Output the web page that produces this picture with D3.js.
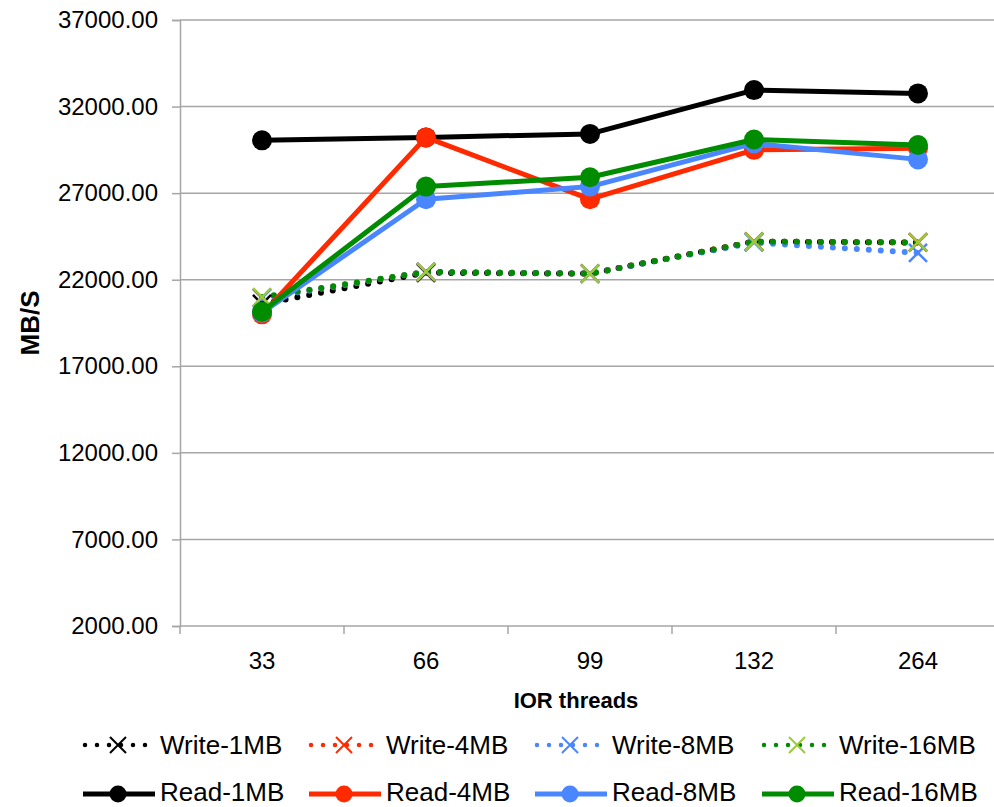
<!DOCTYPE html>
<html>
<head>
<meta charset="utf-8">
<script src="https://cdn.jsdelivr.net/npm/d3@7/dist/d3.min.js"></script>
<style>
  html, body { margin: 0; padding: 0; background: #fff; }
  svg { display: block; font-family: "Liberation Sans", Arial, sans-serif; }
</style>
</head>
<body>
<svg id="chart" width="994" height="807"></svg>
<script>
// IOR throughput (MB/s) by thread count
const threads = ["33", "66", "99", "132", "264"];

const write1MB  = [20600, 22400, 22350, 24200, 24150];
const write4MB  = [20950, 22450, 22350, 24200, 24150];
const write8MB  = [20950, 22450, 22350, 24150, 23550];
const write16MB = [21000, 22450, 22350, 24200, 24150];

const read1MB  = [30050, 30220, 30420, 32950, 32760];
const read4MB  = [20000, 30220, 26650, 29500, 29600];
const read8MB  = [20100, 26650, 27380, 29870, 28950];
const read16MB = [20150, 27380, 27920, 30100, 29780];

const yTicks = [2000, 7000, 12000, 17000, 22000, 27000, 32000, 37000];

const writeSeries = [
  { name: "Write-1MB",  values: write1MB,  color: "#000000", xColor: "#000000" },
  { name: "Write-4MB",  values: write4MB,  color: "#ff2a00", xColor: "#ff2a00" },
  { name: "Write-8MB",  values: write8MB,  color: "#4a86ff", xColor: "#4a86ff" },
  { name: "Write-16MB", values: write16MB, color: "#008c00", xColor: "#9acb3a" }
];
const readSeries = [
  { name: "Read-1MB",  values: read1MB,  color: "#000000" },
  { name: "Read-4MB",  values: read4MB,  color: "#ff2a00" },
  { name: "Read-8MB",  values: read8MB,  color: "#4a86ff" },
  { name: "Read-16MB", values: read16MB, color: "#008c00" }
];

const svg = d3.select("#chart");
const plot = { left: 180, right: 1000, top: 20, bottom: 626 };

const x = d3.scaleBand().domain(threads).range([plot.left, plot.right]);
const y = d3.scaleLinear().domain([2000, 37000]).range([plot.bottom, plot.top]);
const cx = d => x(d) + x.bandwidth() / 2;

// horizontal gridlines
svg.append("g")
  .selectAll("line")
  .data(yTicks.filter(t => t > 2000))
  .join("line")
  .attr("x1", plot.left).attr("x2", plot.right)
  .attr("y1", d => y(d)).attr("y2", d => y(d))
  .attr("stroke", "#a6a6a6").attr("stroke-width", 1.5);

// y axis
const yAxis = svg.append("g")
  .attr("transform", `translate(${plot.left},0)`)
  .call(d3.axisLeft(y).tickValues(yTicks).tickFormat(d3.format(".2f")).tickSize(8).tickPadding(14));
yAxis.select(".domain").attr("stroke", "#a6a6a6").attr("stroke-width", 1.5);
yAxis.selectAll(".tick line").attr("stroke", "#a6a6a6").attr("stroke-width", 1.5);
yAxis.selectAll(".tick text").attr("font-size", 24).attr("fill", "#000")
  .attr("font-family", "Liberation Sans, Arial, sans-serif");

// x axis with ticks between categories
const xAxis = svg.append("g")
  .attr("transform", `translate(0,${plot.bottom})`);
xAxis.append("line")
  .attr("x1", plot.left).attr("x2", plot.right)
  .attr("stroke", "#a6a6a6").attr("stroke-width", 1.5);
const bounds = threads.map(d => x(d)).concat([plot.right]);
xAxis.selectAll("line.tk")
  .data(bounds)
  .join("line")
  .attr("class", "tk")
  .attr("x1", d => d).attr("x2", d => d)
  .attr("y1", 0).attr("y2", 8)
  .attr("stroke", "#a6a6a6").attr("stroke-width", 1.5);
xAxis.selectAll("text")
  .data(threads)
  .join("text")
  .attr("x", d => cx(d))
  .attr("y", 43)
  .attr("text-anchor", "middle")
  .attr("font-size", 24)
  .text(d => d);

// axis titles
svg.append("text")
  .attr("x", (plot.left + plot.right) / 2 - 14)
  .attr("y", 708)
  .attr("text-anchor", "middle")
  .attr("font-size", 22).attr("font-weight", "bold")
  .text("IOR threads");
svg.append("text")
  .attr("transform", `translate(39,${(plot.top + plot.bottom) / 2}) rotate(-90)`)
  .attr("text-anchor", "middle")
  .attr("font-size", 26).attr("font-weight", "bold")
  .text("MB/S");

const line = d3.line().x((d, i) => cx(threads[i])).y(d => y(d));

// write series: dotted lines with X markers
const crossPath = (s) => `M${-s},${-s}L${s},${s}M${-s},${s}L${s},${-s}`;
writeSeries.forEach(s => {
  svg.append("path")
    .datum(s.values)
    .attr("d", line)
    .attr("fill", "none")
    .attr("stroke", s.color)
    .attr("stroke-width", 6)
    .attr("stroke-linecap", "round")
    .attr("stroke-dasharray", "0,12");
});
writeSeries.forEach(s => {
  svg.append("g").selectAll("path")
    .data(s.values)
    .join("path")
    .attr("transform", (d, i) => `translate(${cx(threads[i])},${y(d)})`)
    .attr("d", crossPath(9))
    .attr("stroke", s.xColor)
    .attr("stroke-width", 2.5)
    .attr("fill", "none");
});

// read series: solid lines with circle markers
readSeries.forEach(s => {
  const g = svg.append("g");
  g.append("path")
    .datum(s.values)
    .attr("d", line)
    .attr("fill", "none")
    .attr("stroke", s.color)
    .attr("stroke-width", 5)
    .attr("stroke-linejoin", "round");
  g.selectAll("circle")
    .data(s.values)
    .join("circle")
    .attr("cx", (d, i) => cx(threads[i]))
    .attr("cy", d => y(d))
    .attr("r", 10)
    .attr("fill", s.color);
});

// legend
const legendX = [83, 309, 535, 762];
const legend = svg.append("g");
writeSeries.forEach((s, i) => {
  const g = legend.append("g").attr("transform", `translate(${legendX[i]},745)`);
  g.append("line")
    .attr("x1", 2).attr("x2", 64)
    .attr("stroke", s.color).attr("stroke-width", 4.5)
    .attr("stroke-linecap", "round").attr("stroke-dasharray", "0,12");
  g.append("path")
    .attr("transform", "translate(35,0)")
    .attr("d", crossPath(8))
    .attr("stroke", s.xColor).attr("stroke-width", 2).attr("fill", "none");
  g.append("text")
    .attr("x", 77).attr("y", 9)
    .attr("font-size", 26)
    .text(s.name);
});
readSeries.forEach((s, i) => {
  const g = legend.append("g").attr("transform", `translate(${legendX[i]},794)`);
  g.append("line")
    .attr("x1", 0).attr("x2", 72)
    .attr("stroke", s.color).attr("stroke-width", 5);
  g.append("circle")
    .attr("cx", 35).attr("r", 8.5).attr("fill", s.color);
  g.append("text")
    .attr("x", 77).attr("y", 7)
    .attr("font-size", 26)
    .text(s.name);
});
</script>
</body>
</html>
